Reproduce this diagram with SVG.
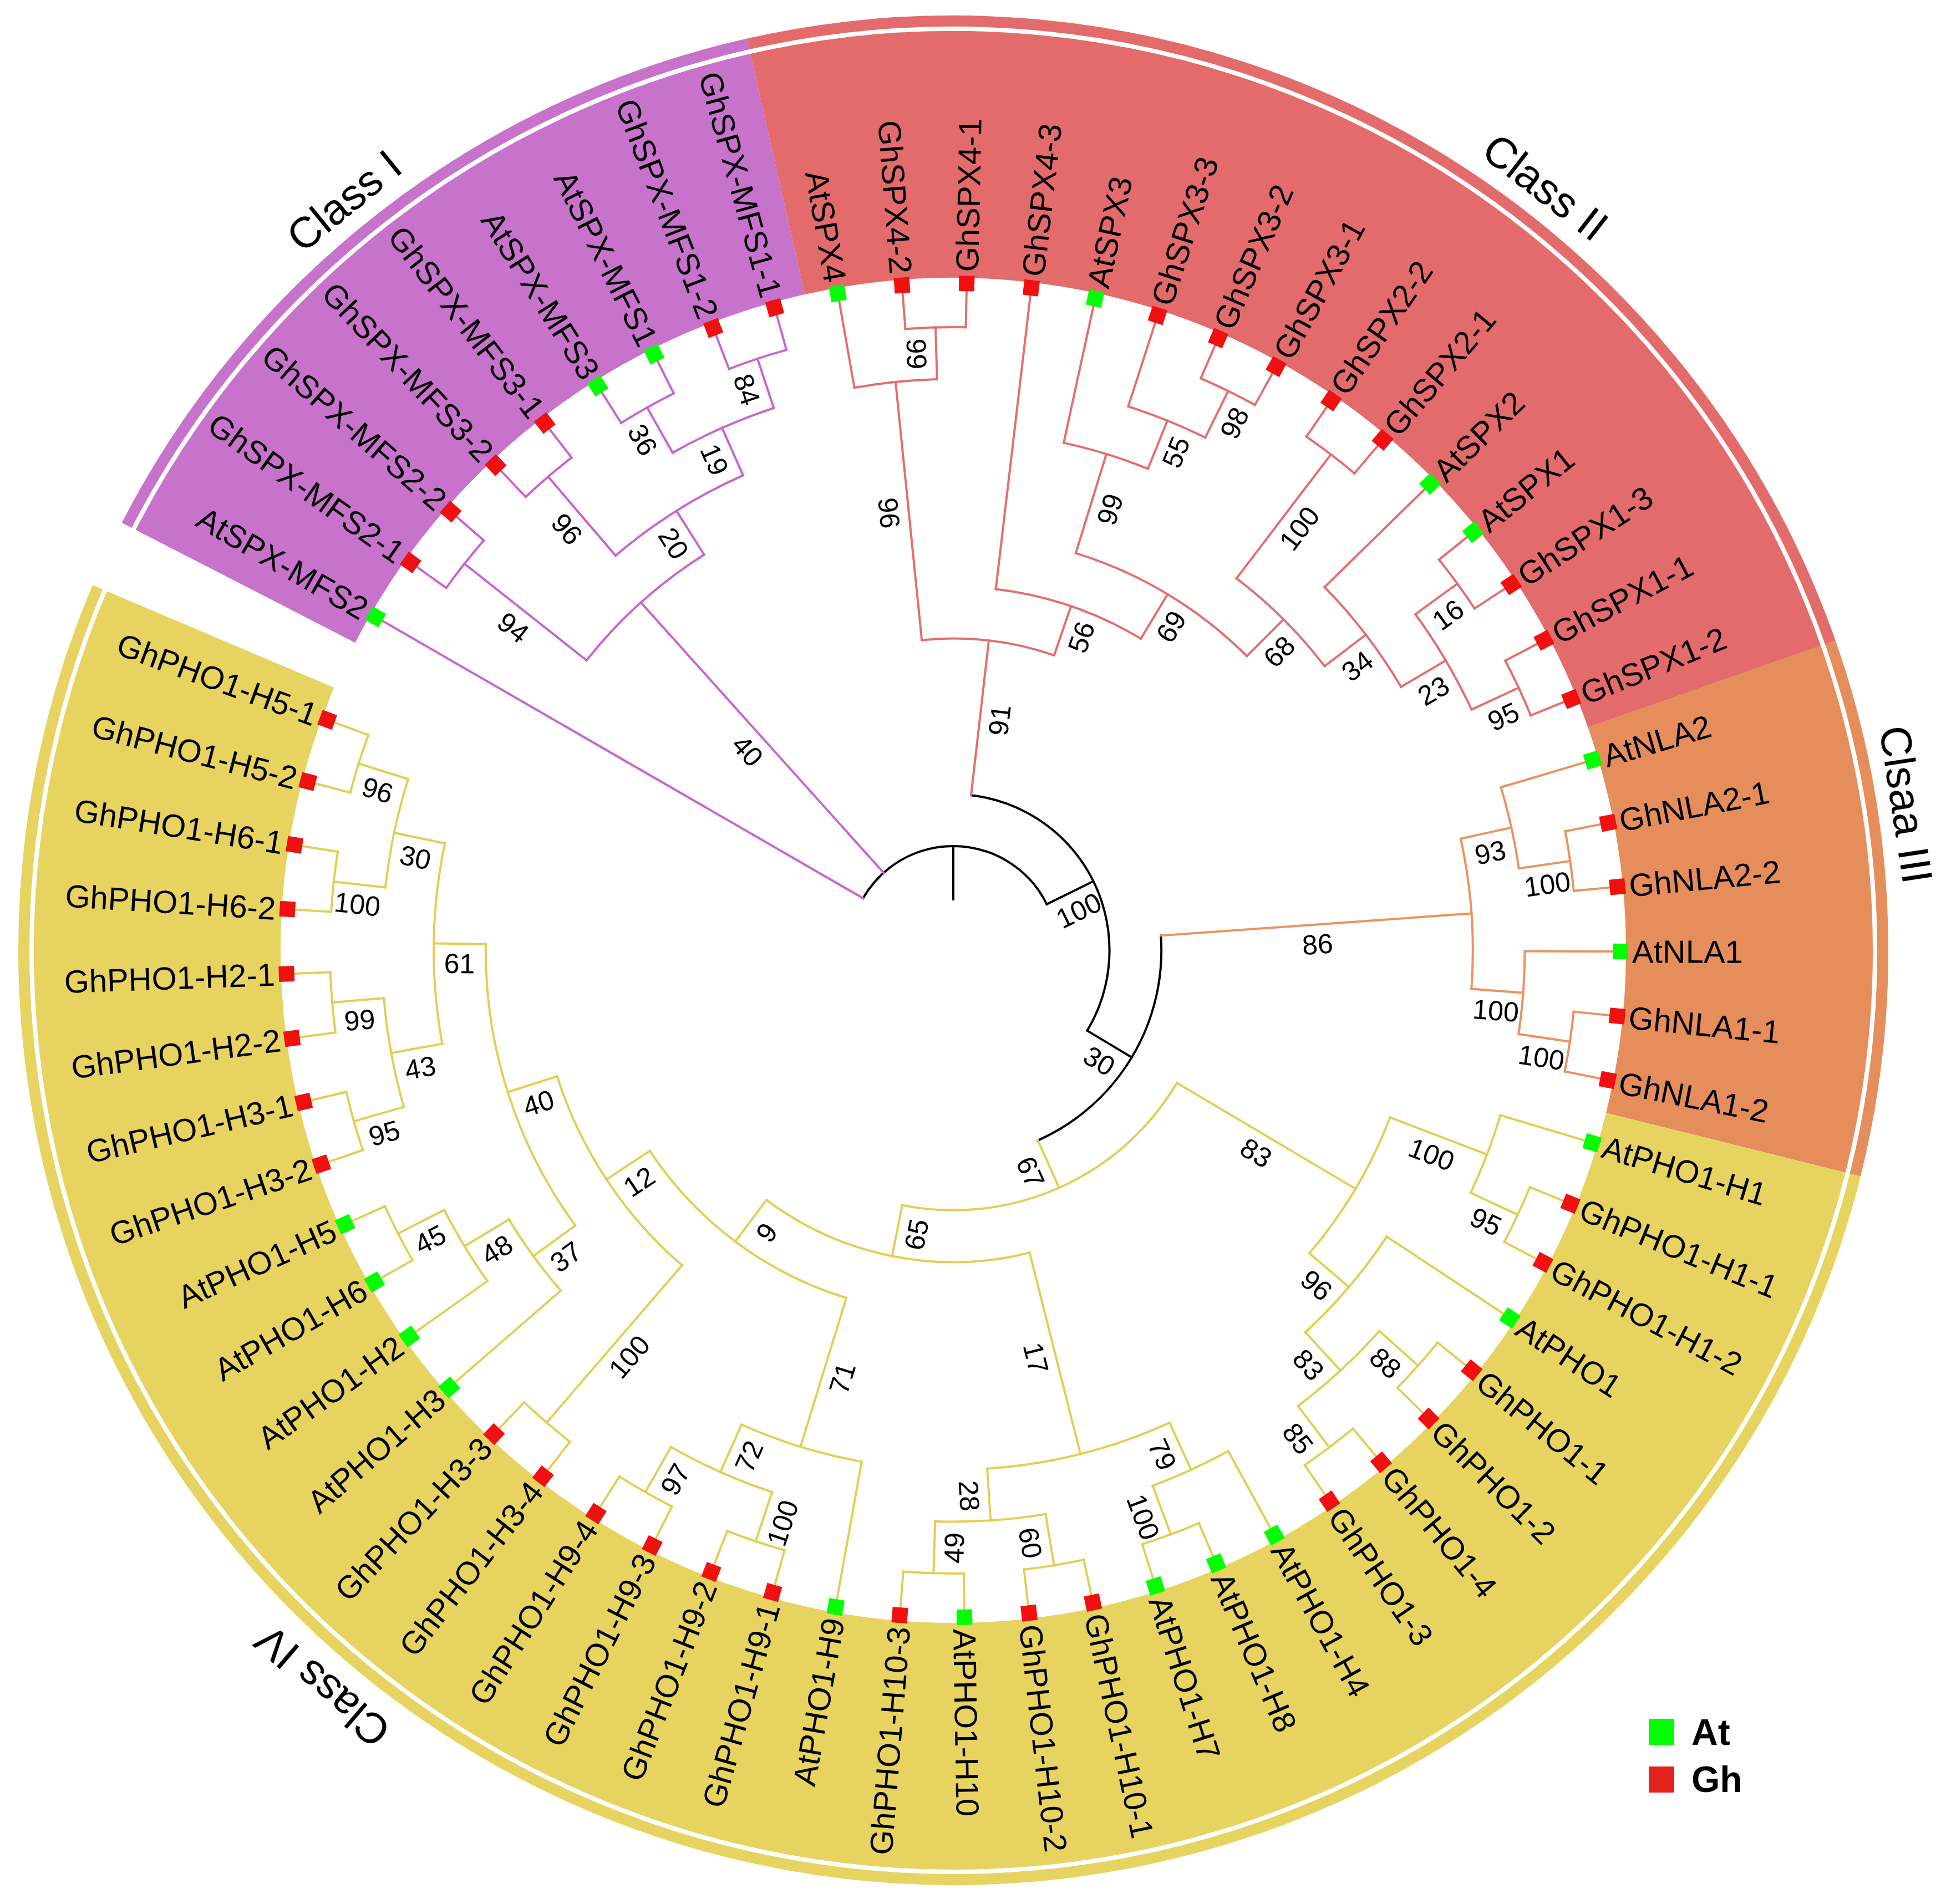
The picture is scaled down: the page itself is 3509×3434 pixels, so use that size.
<svg xmlns="http://www.w3.org/2000/svg" width="3509" height="3434" viewBox="0 0 3509 3434">
<style>
text{font-family:"Liberation Sans",Arial,sans-serif;fill:#000}
.lf{font-size:58px;dominant-baseline:central}
.lfL{font-size:58px;dominant-baseline:central;text-anchor:end}
.bs{font-size:50px;dominant-baseline:central;text-anchor:middle}
.cl{font-size:78px;dominant-baseline:central;text-anchor:middle}
.lg{font-size:66px;font-weight:bold}
.at{fill:#00FF00}
.gh{fill:#F01010}
.k{stroke:#000}
.p{stroke:#C864D2}
.r{stroke:#E46E6E}
.o{stroke:#EC9260}
.y{stroke:#E4CD55}
</style>
<rect width="3509" height="3434" fill="#fff"/>
<g id="bands" fill="none" transform="translate(1719 1714)">
<circle r="1435.5" stroke-width="445" pathLength="360" stroke="#C772CB" stroke-dasharray="50.03 400" transform="rotate(207.22)"/>
<circle r="1435.5" stroke-width="445" pathLength="360" stroke="#E36B6B" stroke-dasharray="83.39 400" transform="rotate(257.25)"/>
<circle r="1435.5" stroke-width="445" pathLength="360" stroke="#E68D5C" stroke-dasharray="33.35 400" transform="rotate(340.64)"/>
<circle r="1435.5" stroke-width="445" pathLength="360" stroke="#E7D360" stroke-dasharray="189.01 400" transform="rotate(373.99)"/>
<circle r="1676" stroke-width="20" pathLength="360" stroke="#C772CB" stroke-dasharray="50.03 400" transform="rotate(207.22)"/>
<circle r="1676" stroke-width="20" pathLength="360" stroke="#E36B6B" stroke-dasharray="83.39 400" transform="rotate(257.25)"/>
<circle r="1676" stroke-width="20" pathLength="360" stroke="#E68D5C" stroke-dasharray="33.35 400" transform="rotate(340.64)"/>
<circle r="1676" stroke-width="20" pathLength="360" stroke="#E7D360" stroke-dasharray="189.01 400" transform="rotate(373.99)"/>
</g>
<g id="connectors" fill="none" stroke-width="4" stroke-linecap="square" transform="translate(1719 1714)">
<g class="k">
<line x1="92" x2="188" transform="rotate(270)"/>
<circle r="188" pathLength="360" stroke-dasharray="123.75 400" transform="rotate(210)"/>
<line x1="188" x2="281.6" transform="rotate(333.75)"/>
<circle r="281.6" pathLength="360" stroke-dasharray="114.43 400" transform="rotate(276.535)"/>
<line x1="281.6" x2="375.2" transform="rotate(30.965)"/>
<circle r="375.2" pathLength="360" stroke-dasharray="70.07 400" transform="rotate(355.93)"/>
</g>
<g class="p">
<line x1="188" x2="1203" transform="rotate(210)"/>
<line x1="188" x2="843.2" transform="rotate(228.07)"/>
<circle r="843.2" pathLength="360" stroke-dasharray="19.46 400" transform="rotate(218.34)"/>
<line x1="843.2" x2="1124" transform="rotate(218.34)"/>
<circle r="1124" pathLength="360" stroke-dasharray="5.56 400" transform="rotate(215.56)"/>
<line x1="1124" x2="1203" transform="rotate(215.56)"/>
<line x1="1124" x2="1203" transform="rotate(221.12)"/>
<line x1="843.2" x2="936.8" transform="rotate(237.8)"/>
<circle r="936.8" pathLength="360" stroke-dasharray="16.67 400" transform="rotate(229.46)"/>
<line x1="936.8" x2="1124" transform="rotate(229.46)"/>
<circle r="1124" pathLength="360" stroke-dasharray="5.56 400" transform="rotate(226.68)"/>
<line x1="1124" x2="1203" transform="rotate(226.68)"/>
<line x1="1124" x2="1203" transform="rotate(232.24)"/>
<line x1="936.8" x2="1030.4" transform="rotate(246.13)"/>
<circle r="1030.4" pathLength="360" stroke-dasharray="11.11 400" transform="rotate(240.58)"/>
<line x1="1030.4" x2="1124" transform="rotate(240.58)"/>
<circle r="1124" pathLength="360" stroke-dasharray="5.55 400" transform="rotate(237.8)"/>
<line x1="1124" x2="1203" transform="rotate(237.8)"/>
<line x1="1124" x2="1203" transform="rotate(243.35)"/>
<line x1="1030.4" x2="1124" transform="rotate(251.69)"/>
<circle r="1124" pathLength="360" stroke-dasharray="5.56 400" transform="rotate(248.91)"/>
<line x1="1124" x2="1203" transform="rotate(248.91)"/>
<line x1="1124" x2="1203" transform="rotate(254.47)"/>
</g>
<g class="r">
<line x1="281.6" x2="562.4" transform="rotate(276.535)"/>
<circle r="562.4" pathLength="360" stroke-dasharray="24.67 400" transform="rotate(264.2)"/>
<line x1="562.4" x2="1030.4" transform="rotate(264.2)"/>
<circle r="1030.4" pathLength="360" stroke-dasharray="8.34 400" transform="rotate(260.03)"/>
<line x1="1030.4" x2="1203" transform="rotate(260.03)"/>
<line x1="1030.4" x2="1124" transform="rotate(268.37)"/>
<circle r="1124" pathLength="360" stroke-dasharray="5.56 400" transform="rotate(265.59)"/>
<line x1="1124" x2="1203" transform="rotate(265.59)"/>
<line x1="1124" x2="1203" transform="rotate(271.15)"/>
<line x1="562.4" x2="656" transform="rotate(288.87)"/>
<circle r="656" pathLength="360" stroke-dasharray="24.32 400" transform="rotate(276.71)"/>
<line x1="656" x2="1203" transform="rotate(276.71)"/>
<line x1="656" x2="749.6" transform="rotate(301.03)"/>
<circle r="749.6" pathLength="360" stroke-dasharray="27.79 400" transform="rotate(287.135)"/>
<line x1="749.6" x2="936.8" transform="rotate(287.135)"/>
<circle r="936.8" pathLength="360" stroke-dasharray="9.73 400" transform="rotate(282.27)"/>
<line x1="936.8" x2="1203" transform="rotate(282.27)"/>
<line x1="936.8" x2="1030.4" transform="rotate(292)"/>
<circle r="1030.4" pathLength="360" stroke-dasharray="8.335 400" transform="rotate(287.83)"/>
<line x1="1030.4" x2="1203" transform="rotate(287.83)"/>
<line x1="1030.4" x2="1124" transform="rotate(296.165)"/>
<circle r="1124" pathLength="360" stroke-dasharray="5.55 400" transform="rotate(293.39)"/>
<line x1="1124" x2="1203" transform="rotate(293.39)"/>
<line x1="1124" x2="1203" transform="rotate(298.94)"/>
<line x1="749.6" x2="843.2" transform="rotate(314.925)"/>
<circle r="843.2" pathLength="360" stroke-dasharray="15.29 400" transform="rotate(307.28)"/>
<line x1="843.2" x2="1124" transform="rotate(307.28)"/>
<circle r="1124" pathLength="360" stroke-dasharray="5.56 400" transform="rotate(304.5)"/>
<line x1="1124" x2="1203" transform="rotate(304.5)"/>
<line x1="1124" x2="1203" transform="rotate(310.06)"/>
<line x1="843.2" x2="936.8" transform="rotate(322.57)"/>
<circle r="936.8" pathLength="360" stroke-dasharray="13.9 400" transform="rotate(315.62)"/>
<line x1="936.8" x2="1203" transform="rotate(315.62)"/>
<line x1="936.8" x2="1030.4" transform="rotate(329.52)"/>
<circle r="1030.4" pathLength="360" stroke-dasharray="11.12 400" transform="rotate(323.96)"/>
<line x1="1030.4" x2="1124" transform="rotate(323.96)"/>
<circle r="1124" pathLength="360" stroke-dasharray="5.56 400" transform="rotate(321.18)"/>
<line x1="1124" x2="1203" transform="rotate(321.18)"/>
<line x1="1124" x2="1203" transform="rotate(326.74)"/>
<line x1="1030.4" x2="1124" transform="rotate(335.08)"/>
<circle r="1124" pathLength="360" stroke-dasharray="5.56 400" transform="rotate(332.3)"/>
<line x1="1124" x2="1203" transform="rotate(332.3)"/>
<line x1="1124" x2="1203" transform="rotate(337.86)"/>
</g>
<g class="o">
<line x1="375.2" x2="936.8" transform="rotate(355.93)"/>
<circle r="936.8" pathLength="360" stroke-dasharray="16.67 400" transform="rotate(347.59)"/>
<line x1="936.8" x2="1030.4" transform="rotate(347.59)"/>
<circle r="1030.4" pathLength="360" stroke-dasharray="8.335 400" transform="rotate(343.42)"/>
<line x1="1030.4" x2="1203" transform="rotate(343.42)"/>
<line x1="1030.4" x2="1124" transform="rotate(351.755)"/>
<circle r="1124" pathLength="360" stroke-dasharray="5.55 400" transform="rotate(348.98)"/>
<line x1="1124" x2="1203" transform="rotate(348.98)"/>
<line x1="1124" x2="1203" transform="rotate(354.53)"/>
<line x1="936.8" x2="1030.4" transform="rotate(4.26)"/>
<circle r="1030.4" pathLength="360" stroke-dasharray="8.34 400" transform="rotate(0.09)"/>
<line x1="1030.4" x2="1203" transform="rotate(0.09)"/>
<line x1="1030.4" x2="1124" transform="rotate(8.43)"/>
<circle r="1124" pathLength="360" stroke-dasharray="5.56 400" transform="rotate(5.65)"/>
<line x1="1124" x2="1203" transform="rotate(5.65)"/>
<line x1="1124" x2="1203" transform="rotate(11.21)"/>
</g>
<g class="y">
<line x1="375.2" x2="468.8" transform="rotate(66)"/>
<circle r="468.8" pathLength="360" stroke-dasharray="70.66 400" transform="rotate(30.67)"/>
<line x1="468.8" x2="843.2" transform="rotate(30.67)"/>
<circle r="843.2" pathLength="360" stroke-dasharray="19.46 400" transform="rotate(20.94)"/>
<line x1="843.2" x2="1030.4" transform="rotate(20.94)"/>
<circle r="1030.4" pathLength="360" stroke-dasharray="8.34 400" transform="rotate(16.77)"/>
<line x1="1030.4" x2="1203" transform="rotate(16.77)"/>
<line x1="1030.4" x2="1124" transform="rotate(25.11)"/>
<circle r="1124" pathLength="360" stroke-dasharray="5.56 400" transform="rotate(22.33)"/>
<line x1="1124" x2="1203" transform="rotate(22.33)"/>
<line x1="1124" x2="1203" transform="rotate(27.89)"/>
<line x1="843.2" x2="936.8" transform="rotate(40.4)"/>
<circle r="936.8" pathLength="360" stroke-dasharray="13.895 400" transform="rotate(33.45)"/>
<line x1="936.8" x2="1203" transform="rotate(33.45)"/>
<line x1="936.8" x2="1030.4" transform="rotate(47.345)"/>
<circle r="1030.4" pathLength="360" stroke-dasharray="11.11 400" transform="rotate(41.79)"/>
<line x1="1030.4" x2="1124" transform="rotate(41.79)"/>
<circle r="1124" pathLength="360" stroke-dasharray="5.56 400" transform="rotate(39.01)"/>
<line x1="1124" x2="1203" transform="rotate(39.01)"/>
<line x1="1124" x2="1203" transform="rotate(44.57)"/>
<line x1="1030.4" x2="1124" transform="rotate(52.9)"/>
<circle r="1124" pathLength="360" stroke-dasharray="5.56 400" transform="rotate(50.12)"/>
<line x1="1124" x2="1203" transform="rotate(50.12)"/>
<line x1="1124" x2="1203" transform="rotate(55.68)"/>
<line x1="468.8" x2="562.4" transform="rotate(101.33)"/>
<circle r="562.4" pathLength="360" stroke-dasharray="50.985 400" transform="rotate(75.835)"/>
<line x1="562.4" x2="936.8" transform="rotate(75.835)"/>
<circle r="936.8" pathLength="360" stroke-dasharray="20.85 400" transform="rotate(65.41)"/>
<line x1="936.8" x2="1030.4" transform="rotate(65.41)"/>
<circle r="1030.4" pathLength="360" stroke-dasharray="8.34 400" transform="rotate(61.24)"/>
<line x1="1030.4" x2="1203" transform="rotate(61.24)"/>
<line x1="1030.4" x2="1124" transform="rotate(69.58)"/>
<circle r="1124" pathLength="360" stroke-dasharray="5.56 400" transform="rotate(66.8)"/>
<line x1="1124" x2="1203" transform="rotate(66.8)"/>
<line x1="1124" x2="1203" transform="rotate(72.36)"/>
<line x1="936.8" x2="1030.4" transform="rotate(86.26)"/>
<circle r="1030.4" pathLength="360" stroke-dasharray="11.12 400" transform="rotate(80.7)"/>
<line x1="1030.4" x2="1124" transform="rotate(80.7)"/>
<circle r="1124" pathLength="360" stroke-dasharray="5.56 400" transform="rotate(77.92)"/>
<line x1="1124" x2="1203" transform="rotate(77.92)"/>
<line x1="1124" x2="1203" transform="rotate(83.48)"/>
<line x1="1030.4" x2="1124" transform="rotate(91.82)"/>
<circle r="1124" pathLength="360" stroke-dasharray="5.56 400" transform="rotate(89.04)"/>
<line x1="1124" x2="1203" transform="rotate(89.04)"/>
<line x1="1124" x2="1203" transform="rotate(94.6)"/>
<line x1="562.4" x2="656" transform="rotate(126.82)"/>
<circle r="656" pathLength="360" stroke-dasharray="39.435 400" transform="rotate(107.105)"/>
<line x1="656" x2="936.8" transform="rotate(107.105)"/>
<circle r="936.8" pathLength="360" stroke-dasharray="13.89 400" transform="rotate(100.16)"/>
<line x1="936.8" x2="1203" transform="rotate(100.16)"/>
<line x1="936.8" x2="1030.4" transform="rotate(114.05)"/>
<circle r="1030.4" pathLength="360" stroke-dasharray="11.12 400" transform="rotate(108.49)"/>
<line x1="1030.4" x2="1124" transform="rotate(108.49)"/>
<circle r="1124" pathLength="360" stroke-dasharray="5.56 400" transform="rotate(105.71)"/>
<line x1="1124" x2="1203" transform="rotate(105.71)"/>
<line x1="1124" x2="1203" transform="rotate(111.27)"/>
<line x1="1030.4" x2="1124" transform="rotate(119.61)"/>
<circle r="1124" pathLength="360" stroke-dasharray="5.56 400" transform="rotate(116.83)"/>
<line x1="1124" x2="1203" transform="rotate(116.83)"/>
<line x1="1124" x2="1203" transform="rotate(122.39)"/>
<line x1="656" x2="749.6" transform="rotate(146.54)"/>
<circle r="749.6" pathLength="360" stroke-dasharray="31.62 400" transform="rotate(130.73)"/>
<line x1="749.6" x2="1124" transform="rotate(130.73)"/>
<circle r="1124" pathLength="360" stroke-dasharray="5.56 400" transform="rotate(127.95)"/>
<line x1="1124" x2="1203" transform="rotate(127.95)"/>
<line x1="1124" x2="1203" transform="rotate(133.51)"/>
<line x1="749.6" x2="843.2" transform="rotate(162.35)"/>
<circle r="843.2" pathLength="360" stroke-dasharray="36.825 400" transform="rotate(143.935)"/>
<line x1="843.2" x2="936.8" transform="rotate(143.935)"/>
<circle r="936.8" pathLength="360" stroke-dasharray="9.73 400" transform="rotate(139.07)"/>
<line x1="936.8" x2="1203" transform="rotate(139.07)"/>
<line x1="936.8" x2="1030.4" transform="rotate(148.8)"/>
<circle r="1030.4" pathLength="360" stroke-dasharray="8.34 400" transform="rotate(144.63)"/>
<line x1="1030.4" x2="1203" transform="rotate(144.63)"/>
<line x1="1030.4" x2="1124" transform="rotate(152.97)"/>
<circle r="1124" pathLength="360" stroke-dasharray="5.56 400" transform="rotate(150.19)"/>
<line x1="1124" x2="1203" transform="rotate(150.19)"/>
<line x1="1124" x2="1203" transform="rotate(155.75)"/>
<line x1="843.2" x2="936.8" transform="rotate(180.76)"/>
<circle r="936.8" pathLength="360" stroke-dasharray="22.24 400" transform="rotate(169.64)"/>
<line x1="936.8" x2="1030.4" transform="rotate(169.64)"/>
<circle r="1030.4" pathLength="360" stroke-dasharray="11.12 400" transform="rotate(164.08)"/>
<line x1="1030.4" x2="1124" transform="rotate(164.08)"/>
<circle r="1124" pathLength="360" stroke-dasharray="5.56 400" transform="rotate(161.3)"/>
<line x1="1124" x2="1203" transform="rotate(161.3)"/>
<line x1="1124" x2="1203" transform="rotate(166.86)"/>
<line x1="1030.4" x2="1124" transform="rotate(175.2)"/>
<circle r="1124" pathLength="360" stroke-dasharray="5.56 400" transform="rotate(172.42)"/>
<line x1="1124" x2="1203" transform="rotate(172.42)"/>
<line x1="1124" x2="1203" transform="rotate(177.98)"/>
<line x1="936.8" x2="1030.4" transform="rotate(191.88)"/>
<circle r="1030.4" pathLength="360" stroke-dasharray="11.12 400" transform="rotate(186.32)"/>
<line x1="1030.4" x2="1124" transform="rotate(186.32)"/>
<circle r="1124" pathLength="360" stroke-dasharray="5.56 400" transform="rotate(183.54)"/>
<line x1="1124" x2="1203" transform="rotate(183.54)"/>
<line x1="1124" x2="1203" transform="rotate(189.1)"/>
<line x1="1030.4" x2="1124" transform="rotate(197.44)"/>
<circle r="1124" pathLength="360" stroke-dasharray="5.56 400" transform="rotate(194.66)"/>
<line x1="1124" x2="1203" transform="rotate(194.66)"/>
<line x1="1124" x2="1203" transform="rotate(200.22)"/>
</g>
</g>
<g id="support-values" transform="translate(1719 1714)">
<text class="bs" transform="rotate(333.75)" x="234.8" y="36">100</text>
<text class="bs" transform="rotate(30.965)" x="328.4" y="36">30</text>
<text class="bs" transform="rotate(48.07)" x="-515.6" y="36">40</text>
<text class="bs" transform="rotate(38.34)" x="-983.6" y="36">94</text>
<text class="bs" transform="rotate(57.8)" x="-890" y="36">20</text>
<text class="bs" transform="rotate(49.46)" x="-1030.4" y="36">96</text>
<text class="bs" transform="rotate(66.13)" x="-983.6" y="36">19</text>
<text class="bs" transform="rotate(60.58)" x="-1077.2" y="36">36</text>
<text class="bs" transform="rotate(71.69)" x="-1077.2" y="36">84</text>
<text class="bs" transform="rotate(276.535)" x="422" y="36">91</text>
<text class="bs" transform="rotate(84.2)" x="-796.4" y="36">96</text>
<text class="bs" transform="rotate(88.37)" x="-1077.2" y="36">99</text>
<text class="bs" transform="rotate(288.87)" x="609.2" y="36">56</text>
<text class="bs" transform="rotate(301.03)" x="702.8" y="36">69</text>
<text class="bs" transform="rotate(287.135)" x="843.2" y="36">99</text>
<text class="bs" transform="rotate(292)" x="983.6" y="36">55</text>
<text class="bs" transform="rotate(296.165)" x="1077.2" y="36">98</text>
<text class="bs" transform="rotate(314.925)" x="796.4" y="36">68</text>
<text class="bs" transform="rotate(307.28)" x="983.6" y="36">100</text>
<text class="bs" transform="rotate(322.57)" x="890" y="36">34</text>
<text class="bs" transform="rotate(329.52)" x="983.6" y="36">23</text>
<text class="bs" transform="rotate(323.96)" x="1077.2" y="36">16</text>
<text class="bs" transform="rotate(335.08)" x="1077.2" y="36">95</text>
<text class="bs" transform="rotate(355.93)" x="656" y="36">86</text>
<text class="bs" transform="rotate(347.59)" x="983.6" y="36">93</text>
<text class="bs" transform="rotate(351.755)" x="1077.2" y="36">100</text>
<text class="bs" transform="rotate(4.26)" x="983.6" y="36">100</text>
<text class="bs" transform="rotate(8.43)" x="1077.2" y="36">100</text>
<text class="bs" transform="rotate(66)" x="422" y="36">67</text>
<text class="bs" transform="rotate(30.67)" x="656" y="36">83</text>
<text class="bs" transform="rotate(20.94)" x="936.8" y="36">100</text>
<text class="bs" transform="rotate(25.11)" x="1077.2" y="36">95</text>
<text class="bs" transform="rotate(40.4)" x="890" y="36">96</text>
<text class="bs" transform="rotate(47.345)" x="983.6" y="36">83</text>
<text class="bs" transform="rotate(41.79)" x="1077.2" y="36">88</text>
<text class="bs" transform="rotate(52.9)" x="1077.2" y="36">85</text>
<text class="bs" transform="rotate(281.33)" x="-515.6" y="36">65</text>
<text class="bs" transform="rotate(75.835)" x="749.6" y="36">17</text>
<text class="bs" transform="rotate(65.41)" x="983.6" y="36">79</text>
<text class="bs" transform="rotate(69.58)" x="1077.2" y="36">100</text>
<text class="bs" transform="rotate(86.26)" x="983.6" y="36">28</text>
<text class="bs" transform="rotate(80.7)" x="1077.2" y="36">60</text>
<text class="bs" transform="rotate(271.82)" x="-1077.2" y="36">49</text>
<text class="bs" transform="rotate(306.82)" x="-609.2" y="36">9</text>
<text class="bs" transform="rotate(287.105)" x="-796.4" y="36">71</text>
<text class="bs" transform="rotate(294.05)" x="-983.6" y="36">72</text>
<text class="bs" transform="rotate(288.49)" x="-1077.2" y="36">100</text>
<text class="bs" transform="rotate(299.61)" x="-1077.2" y="36">97</text>
<text class="bs" transform="rotate(326.54)" x="-702.8" y="36">12</text>
<text class="bs" transform="rotate(310.73)" x="-936.8" y="36">100</text>
<text class="bs" transform="rotate(342.35)" x="-796.4" y="36">40</text>
<text class="bs" transform="rotate(323.935)" x="-890" y="36">37</text>
<text class="bs" transform="rotate(328.8)" x="-983.6" y="36">48</text>
<text class="bs" transform="rotate(332.97)" x="-1077.2" y="36">45</text>
<text class="bs" transform="rotate(0.76)" x="-890" y="36">61</text>
<text class="bs" transform="rotate(349.64)" x="-983.6" y="36">43</text>
<text class="bs" transform="rotate(344.08)" x="-1077.2" y="36">95</text>
<text class="bs" transform="rotate(355.2)" x="-1077.2" y="36">99</text>
<text class="bs" transform="rotate(11.88)" x="-983.6" y="36">30</text>
<text class="bs" transform="rotate(6.32)" x="-1077.2" y="36">100</text>
<text class="bs" transform="rotate(17.44)" x="-1077.2" y="36">96</text>
</g>
<g id="leaves" transform="translate(1719 1714)">
<g id="leaf-AtSPX-MFS2" transform="rotate(30)"><rect class="at" x="-1217" y="-14" width="28" height="28"/><text class="lfL" x="-1224">AtSPX-MFS2</text></g>
<g id="leaf-GhSPX-MFS2-1" transform="rotate(35.56)"><rect class="gh" x="-1217" y="-14" width="28" height="28"/><text class="lfL" x="-1224">GhSPX-MFS2-1</text></g>
<g id="leaf-GhSPX-MFS2-2" transform="rotate(41.12)"><rect class="gh" x="-1217" y="-14" width="28" height="28"/><text class="lfL" x="-1224">GhSPX-MFS2-2</text></g>
<g id="leaf-GhSPX-MFS3-2" transform="rotate(46.68)"><rect class="gh" x="-1217" y="-14" width="28" height="28"/><text class="lfL" x="-1224">GhSPX-MFS3-2</text></g>
<g id="leaf-GhSPX-MFS3-1" transform="rotate(52.24)"><rect class="gh" x="-1217" y="-14" width="28" height="28"/><text class="lfL" x="-1224">GhSPX-MFS3-1</text></g>
<g id="leaf-AtSPX-MFS3" transform="rotate(57.8)"><rect class="at" x="-1217" y="-14" width="28" height="28"/><text class="lfL" x="-1224">AtSPX-MFS3</text></g>
<g id="leaf-AtSPX-MFS1" transform="rotate(63.35)"><rect class="at" x="-1217" y="-14" width="28" height="28"/><text class="lfL" x="-1224">AtSPX-MFS1</text></g>
<g id="leaf-GhSPX-MFS1-2" transform="rotate(68.91)"><rect class="gh" x="-1217" y="-14" width="28" height="28"/><text class="lfL" x="-1224">GhSPX-MFS1-2</text></g>
<g id="leaf-GhSPX-MFS1-1" transform="rotate(74.47)"><rect class="gh" x="-1217" y="-14" width="28" height="28"/><text class="lfL" x="-1224">GhSPX-MFS1-1</text></g>
<g id="leaf-AtSPX4" transform="rotate(80.03)"><rect class="at" x="-1217" y="-14" width="28" height="28"/><text class="lfL" x="-1224">AtSPX4</text></g>
<g id="leaf-GhSPX4-2" transform="rotate(85.59)"><rect class="gh" x="-1217" y="-14" width="28" height="28"/><text class="lfL" x="-1224">GhSPX4-2</text></g>
<g id="leaf-GhSPX4-1" transform="rotate(271.15)"><rect class="gh" x="1189" y="-14" width="28" height="28"/><text class="lf" x="1224">GhSPX4-1</text></g>
<g id="leaf-GhSPX4-3" transform="rotate(276.71)"><rect class="gh" x="1189" y="-14" width="28" height="28"/><text class="lf" x="1224">GhSPX4-3</text></g>
<g id="leaf-AtSPX3" transform="rotate(282.27)"><rect class="at" x="1189" y="-14" width="28" height="28"/><text class="lf" x="1224">AtSPX3</text></g>
<g id="leaf-GhSPX3-3" transform="rotate(287.83)"><rect class="gh" x="1189" y="-14" width="28" height="28"/><text class="lf" x="1224">GhSPX3-3</text></g>
<g id="leaf-GhSPX3-2" transform="rotate(293.39)"><rect class="gh" x="1189" y="-14" width="28" height="28"/><text class="lf" x="1224">GhSPX3-2</text></g>
<g id="leaf-GhSPX3-1" transform="rotate(298.94)"><rect class="gh" x="1189" y="-14" width="28" height="28"/><text class="lf" x="1224">GhSPX3-1</text></g>
<g id="leaf-GhSPX2-2" transform="rotate(304.5)"><rect class="gh" x="1189" y="-14" width="28" height="28"/><text class="lf" x="1224">GhSPX2-2</text></g>
<g id="leaf-GhSPX2-1" transform="rotate(310.06)"><rect class="gh" x="1189" y="-14" width="28" height="28"/><text class="lf" x="1224">GhSPX2-1</text></g>
<g id="leaf-AtSPX2" transform="rotate(315.62)"><rect class="at" x="1189" y="-14" width="28" height="28"/><text class="lf" x="1224">AtSPX2</text></g>
<g id="leaf-AtSPX1" transform="rotate(321.18)"><rect class="at" x="1189" y="-14" width="28" height="28"/><text class="lf" x="1224">AtSPX1</text></g>
<g id="leaf-GhSPX1-3" transform="rotate(326.74)"><rect class="gh" x="1189" y="-14" width="28" height="28"/><text class="lf" x="1224">GhSPX1-3</text></g>
<g id="leaf-GhSPX1-1" transform="rotate(332.3)"><rect class="gh" x="1189" y="-14" width="28" height="28"/><text class="lf" x="1224">GhSPX1-1</text></g>
<g id="leaf-GhSPX1-2" transform="rotate(337.86)"><rect class="gh" x="1189" y="-14" width="28" height="28"/><text class="lf" x="1224">GhSPX1-2</text></g>
<g id="leaf-AtNLA2" transform="rotate(343.42)"><rect class="at" x="1189" y="-14" width="28" height="28"/><text class="lf" x="1224">AtNLA2</text></g>
<g id="leaf-GhNLA2-1" transform="rotate(348.98)"><rect class="gh" x="1189" y="-14" width="28" height="28"/><text class="lf" x="1224">GhNLA2-1</text></g>
<g id="leaf-GhNLA2-2" transform="rotate(354.53)"><rect class="gh" x="1189" y="-14" width="28" height="28"/><text class="lf" x="1224">GhNLA2-2</text></g>
<g id="leaf-AtNLA1" transform="rotate(0.09)"><rect class="at" x="1189" y="-14" width="28" height="28"/><text class="lf" x="1224">AtNLA1</text></g>
<g id="leaf-GhNLA1-1" transform="rotate(5.65)"><rect class="gh" x="1189" y="-14" width="28" height="28"/><text class="lf" x="1224">GhNLA1-1</text></g>
<g id="leaf-GhNLA1-2" transform="rotate(11.21)"><rect class="gh" x="1189" y="-14" width="28" height="28"/><text class="lf" x="1224">GhNLA1-2</text></g>
<g id="leaf-AtPHO1-H1" transform="rotate(16.77)"><rect class="at" x="1189" y="-14" width="28" height="28"/><text class="lf" x="1224">AtPHO1-H1</text></g>
<g id="leaf-GhPHO1-H1-1" transform="rotate(22.33)"><rect class="gh" x="1189" y="-14" width="28" height="28"/><text class="lf" x="1224">GhPHO1-H1-1</text></g>
<g id="leaf-GhPHO1-H1-2" transform="rotate(27.89)"><rect class="gh" x="1189" y="-14" width="28" height="28"/><text class="lf" x="1224">GhPHO1-H1-2</text></g>
<g id="leaf-AtPHO1" transform="rotate(33.45)"><rect class="at" x="1189" y="-14" width="28" height="28"/><text class="lf" x="1224">AtPHO1</text></g>
<g id="leaf-GhPHO1-1" transform="rotate(39.01)"><rect class="gh" x="1189" y="-14" width="28" height="28"/><text class="lf" x="1224">GhPHO1-1</text></g>
<g id="leaf-GhPHO1-2" transform="rotate(44.57)"><rect class="gh" x="1189" y="-14" width="28" height="28"/><text class="lf" x="1224">GhPHO1-2</text></g>
<g id="leaf-GhPHO1-4" transform="rotate(50.12)"><rect class="gh" x="1189" y="-14" width="28" height="28"/><text class="lf" x="1224">GhPHO1-4</text></g>
<g id="leaf-GhPHO1-3" transform="rotate(55.68)"><rect class="gh" x="1189" y="-14" width="28" height="28"/><text class="lf" x="1224">GhPHO1-3</text></g>
<g id="leaf-AtPHO1-H4" transform="rotate(61.24)"><rect class="at" x="1189" y="-14" width="28" height="28"/><text class="lf" x="1224">AtPHO1-H4</text></g>
<g id="leaf-AtPHO1-H8" transform="rotate(66.8)"><rect class="at" x="1189" y="-14" width="28" height="28"/><text class="lf" x="1224">AtPHO1-H8</text></g>
<g id="leaf-AtPHO1-H7" transform="rotate(72.36)"><rect class="at" x="1189" y="-14" width="28" height="28"/><text class="lf" x="1224">AtPHO1-H7</text></g>
<g id="leaf-GhPHO1-H10-1" transform="rotate(77.92)"><rect class="gh" x="1189" y="-14" width="28" height="28"/><text class="lf" x="1224">GhPHO1-H10-1</text></g>
<g id="leaf-GhPHO1-H10-2" transform="rotate(83.48)"><rect class="gh" x="1189" y="-14" width="28" height="28"/><text class="lf" x="1224">GhPHO1-H10-2</text></g>
<g id="leaf-AtPHO1-H10" transform="rotate(89.04)"><rect class="at" x="1189" y="-14" width="28" height="28"/><text class="lf" x="1224">AtPHO1-H10</text></g>
<g id="leaf-GhPHO1-H10-3" transform="rotate(274.6)"><rect class="gh" x="-1217" y="-14" width="28" height="28"/><text class="lfL" x="-1224">GhPHO1-H10-3</text></g>
<g id="leaf-AtPHO1-H9" transform="rotate(280.16)"><rect class="at" x="-1217" y="-14" width="28" height="28"/><text class="lfL" x="-1224">AtPHO1-H9</text></g>
<g id="leaf-GhPHO1-H9-1" transform="rotate(285.71)"><rect class="gh" x="-1217" y="-14" width="28" height="28"/><text class="lfL" x="-1224">GhPHO1-H9-1</text></g>
<g id="leaf-GhPHO1-H9-2" transform="rotate(291.27)"><rect class="gh" x="-1217" y="-14" width="28" height="28"/><text class="lfL" x="-1224">GhPHO1-H9-2</text></g>
<g id="leaf-GhPHO1-H9-3" transform="rotate(296.83)"><rect class="gh" x="-1217" y="-14" width="28" height="28"/><text class="lfL" x="-1224">GhPHO1-H9-3</text></g>
<g id="leaf-GhPHO1-H9-4" transform="rotate(302.39)"><rect class="gh" x="-1217" y="-14" width="28" height="28"/><text class="lfL" x="-1224">GhPHO1-H9-4</text></g>
<g id="leaf-GhPHO1-H3-4" transform="rotate(307.95)"><rect class="gh" x="-1217" y="-14" width="28" height="28"/><text class="lfL" x="-1224">GhPHO1-H3-4</text></g>
<g id="leaf-GhPHO1-H3-3" transform="rotate(313.51)"><rect class="gh" x="-1217" y="-14" width="28" height="28"/><text class="lfL" x="-1224">GhPHO1-H3-3</text></g>
<g id="leaf-AtPHO1-H3" transform="rotate(319.07)"><rect class="at" x="-1217" y="-14" width="28" height="28"/><text class="lfL" x="-1224">AtPHO1-H3</text></g>
<g id="leaf-AtPHO1-H2" transform="rotate(324.63)"><rect class="at" x="-1217" y="-14" width="28" height="28"/><text class="lfL" x="-1224">AtPHO1-H2</text></g>
<g id="leaf-AtPHO1-H6" transform="rotate(330.19)"><rect class="at" x="-1217" y="-14" width="28" height="28"/><text class="lfL" x="-1224">AtPHO1-H6</text></g>
<g id="leaf-AtPHO1-H5" transform="rotate(335.75)"><rect class="at" x="-1217" y="-14" width="28" height="28"/><text class="lfL" x="-1224">AtPHO1-H5</text></g>
<g id="leaf-GhPHO1-H3-2" transform="rotate(341.3)"><rect class="gh" x="-1217" y="-14" width="28" height="28"/><text class="lfL" x="-1224">GhPHO1-H3-2</text></g>
<g id="leaf-GhPHO1-H3-1" transform="rotate(346.86)"><rect class="gh" x="-1217" y="-14" width="28" height="28"/><text class="lfL" x="-1224">GhPHO1-H3-1</text></g>
<g id="leaf-GhPHO1-H2-2" transform="rotate(352.42)"><rect class="gh" x="-1217" y="-14" width="28" height="28"/><text class="lfL" x="-1224">GhPHO1-H2-2</text></g>
<g id="leaf-GhPHO1-H2-1" transform="rotate(357.98)"><rect class="gh" x="-1217" y="-14" width="28" height="28"/><text class="lfL" x="-1224">GhPHO1-H2-1</text></g>
<g id="leaf-GhPHO1-H6-2" transform="rotate(3.54)"><rect class="gh" x="-1217" y="-14" width="28" height="28"/><text class="lfL" x="-1224">GhPHO1-H6-2</text></g>
<g id="leaf-GhPHO1-H6-1" transform="rotate(9.1)"><rect class="gh" x="-1217" y="-14" width="28" height="28"/><text class="lfL" x="-1224">GhPHO1-H6-1</text></g>
<g id="leaf-GhPHO1-H5-2" transform="rotate(14.66)"><rect class="gh" x="-1217" y="-14" width="28" height="28"/><text class="lfL" x="-1224">GhPHO1-H5-2</text></g>
<g id="leaf-GhPHO1-H5-1" transform="rotate(20.22)"><rect class="gh" x="-1217" y="-14" width="28" height="28"/><text class="lfL" x="-1224">GhPHO1-H5-1</text></g>
</g>
<g id="class-labels" transform="translate(1719 1714)">
<text class="cl" transform="rotate(230.9) translate(1742 0) rotate(90)">Class I</text>
<text class="cl" transform="rotate(307.8) translate(1742 0) rotate(90)">Class II</text>
<text class="cl" transform="rotate(351.3) translate(1738 0) rotate(90)">Clsaa III</text>
<text class="cl" transform="rotate(130.6) translate(1748 0) rotate(90)">Class IV</text>
</g>
<g id="legend">
<rect x="2973" y="3100" width="46" height="47" fill="#00FF00"/>
<text class="lg" x="3050" y="3147">At</text>
<rect x="2973" y="3186" width="46" height="47" fill="#E3211C"/>
<text class="lg" x="3050" y="3232">Gh</text>
</g>
</svg>
